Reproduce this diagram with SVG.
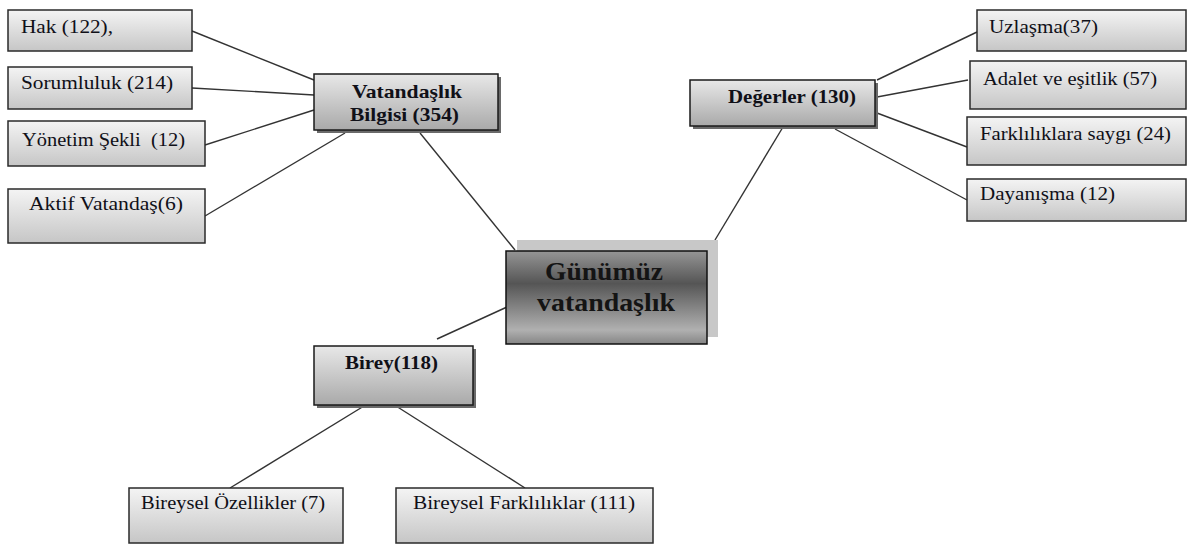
<svg xmlns="http://www.w3.org/2000/svg" width="1188" height="545" viewBox="0 0 1188 545">
<defs>
<linearGradient id="gLeaf" x1="0" y1="0" x2="0" y2="1">
<stop offset="0" stop-color="#f4f4f4"/>
<stop offset="1" stop-color="#c6c6c6"/>
</linearGradient>
<linearGradient id="gMid" x1="0" y1="0" x2="0" y2="1">
<stop offset="0" stop-color="#e8e8e8"/>
<stop offset="1" stop-color="#a9a9a9"/>
</linearGradient>
<linearGradient id="gCenter" x1="0" y1="0" x2="0" y2="1">
<stop offset="0" stop-color="#959595"/>
<stop offset="0.35" stop-color="#555555"/>
<stop offset="0.85" stop-color="#b0b0b0"/>
<stop offset="1" stop-color="#858585"/>
</linearGradient>
</defs>
<style>
.leaf{fill:url(#gLeaf);stroke:#2a2a2a;stroke-width:1.5}
.mid{fill:url(#gMid);stroke:#1a1a1a;stroke-width:1.5}
.shadow{fill:#6a6a6a}
.center{fill:url(#gCenter);stroke:#111;stroke-width:1.5}
.cshadow{fill:#c8c8c8}
.t{font-family:"Liberation Serif","DejaVu Serif",serif;font-size:19px;fill:#101018}
.b{font-family:"Liberation Serif","DejaVu Serif",serif;font-size:19px;font-weight:bold;fill:#101018}
.c{font-family:"Liberation Serif","DejaVu Serif",serif;font-size:25px;font-weight:bold;fill:#141414}
.conn line{stroke:#333;stroke-width:1.4}
</style>
<rect width="1188" height="545" fill="#ffffff"/>
<g id="connectors" class="conn">
<line x1="192" y1="31" x2="314" y2="80"/>
<line x1="192" y1="88" x2="314" y2="95"/>
<line x1="205" y1="145" x2="314" y2="110"/>
<line x1="205" y1="216" x2="345" y2="133"/>
<line x1="420" y1="133" x2="515" y2="250"/>
<line x1="877" y1="80" x2="977" y2="32"/>
<line x1="877" y1="97" x2="968" y2="80"/>
<line x1="877" y1="113" x2="967" y2="147"/>
<line x1="835" y1="129" x2="967" y2="200"/>
<line x1="783" y1="127" x2="715" y2="240"/>
<line x1="507" y1="307" x2="437" y2="339"/>
<line x1="364" y1="406" x2="230" y2="488"/>
<line x1="396" y1="406" x2="525" y2="488"/>
</g>
<g id="node-hak">
<rect class="leaf" x="8" y="10" width="184" height="41"/>
<text class="t" x="21" y="33" textLength="92" lengthAdjust="spacingAndGlyphs">Hak (122),</text>
</g>
<g id="node-sorumluluk">
<rect class="leaf" x="8" y="67" width="184" height="42"/>
<text class="t" x="21" y="89" textLength="152" lengthAdjust="spacingAndGlyphs">Sorumluluk (214)</text>
</g>
<g id="node-yonetim">
<rect class="leaf" x="8" y="121" width="197" height="45"/>
<text class="t" x="22" y="146" textLength="163" lengthAdjust="spacingAndGlyphs" xml:space="preserve">Yönetim Şekli  (12)</text>
</g>
<g id="node-aktif">
<rect class="leaf" x="8" y="189" width="197" height="54"/>
<text class="t" x="29" y="210" textLength="154" lengthAdjust="spacingAndGlyphs">Aktif Vatandaş(6)</text>
</g>
<g id="node-vatandaslik">
<rect class="shadow" x="317" y="77" width="184" height="56"/>
<rect class="mid" x="314" y="74" width="184" height="56"/>
<text class="b" x="352" y="98" textLength="110" lengthAdjust="spacingAndGlyphs">Vatandaşlık</text>
<text class="b" x="350" y="121" textLength="109" lengthAdjust="spacingAndGlyphs">Bilgisi (354)</text>
</g>
<g id="node-degerler">
<rect class="shadow" x="693" y="83" width="185" height="46"/>
<rect class="mid" x="690" y="80" width="185" height="46"/>
<text class="b" x="728" y="103" textLength="128" lengthAdjust="spacingAndGlyphs">Değerler (130)</text>
</g>
<g id="node-uzlasma">
<rect class="leaf" x="977" y="10" width="209" height="41"/>
<text class="t" x="989" y="33" textLength="109" lengthAdjust="spacingAndGlyphs">Uzlaşma(37)</text>
</g>
<g id="node-adalet">
<rect class="leaf" x="970" y="61" width="216" height="48"/>
<text class="t" x="983" y="85" textLength="174" lengthAdjust="spacingAndGlyphs">Adalet ve eşitlik (57)</text>
</g>
<g id="node-farkliliklara">
<rect class="leaf" x="967" y="117" width="219" height="48"/>
<text class="t" x="980" y="140" textLength="191" lengthAdjust="spacingAndGlyphs">Farklılıklara saygı (24)</text>
</g>
<g id="node-dayanisma">
<rect class="leaf" x="967" y="179" width="219" height="42"/>
<text class="t" x="980" y="200" textLength="135" lengthAdjust="spacingAndGlyphs">Dayanışma (12)</text>
</g>
<g id="node-center">
<rect class="cshadow" x="517" y="240" width="201" height="97"/>
<rect class="center" x="506" y="251" width="201" height="93"/>
<text class="c" x="545" y="280" textLength="118" lengthAdjust="spacingAndGlyphs">Günümüz</text>
<text class="c" x="537" y="311" textLength="138" lengthAdjust="spacingAndGlyphs">vatandaşlık</text>
</g>
<g id="node-birey">
<rect class="shadow" x="317" y="349" width="159" height="59"/>
<rect class="mid" x="314" y="346" width="159" height="59"/>
<text class="b" x="345" y="369" textLength="93" lengthAdjust="spacingAndGlyphs">Birey(118)</text>
</g>
<g id="node-bireysel-ozellikler">
<rect class="leaf" x="129" y="488" width="214" height="55"/>
<text class="t" x="141" y="509" textLength="184" lengthAdjust="spacingAndGlyphs">Bireysel Özellikler (7)</text>
</g>
<g id="node-bireysel-farkliliklar">
<rect class="leaf" x="396" y="488" width="257" height="55"/>
<text class="t" x="413" y="509" textLength="222" lengthAdjust="spacingAndGlyphs">Bireysel Farklılıklar (111)</text>
</g>
</svg>
